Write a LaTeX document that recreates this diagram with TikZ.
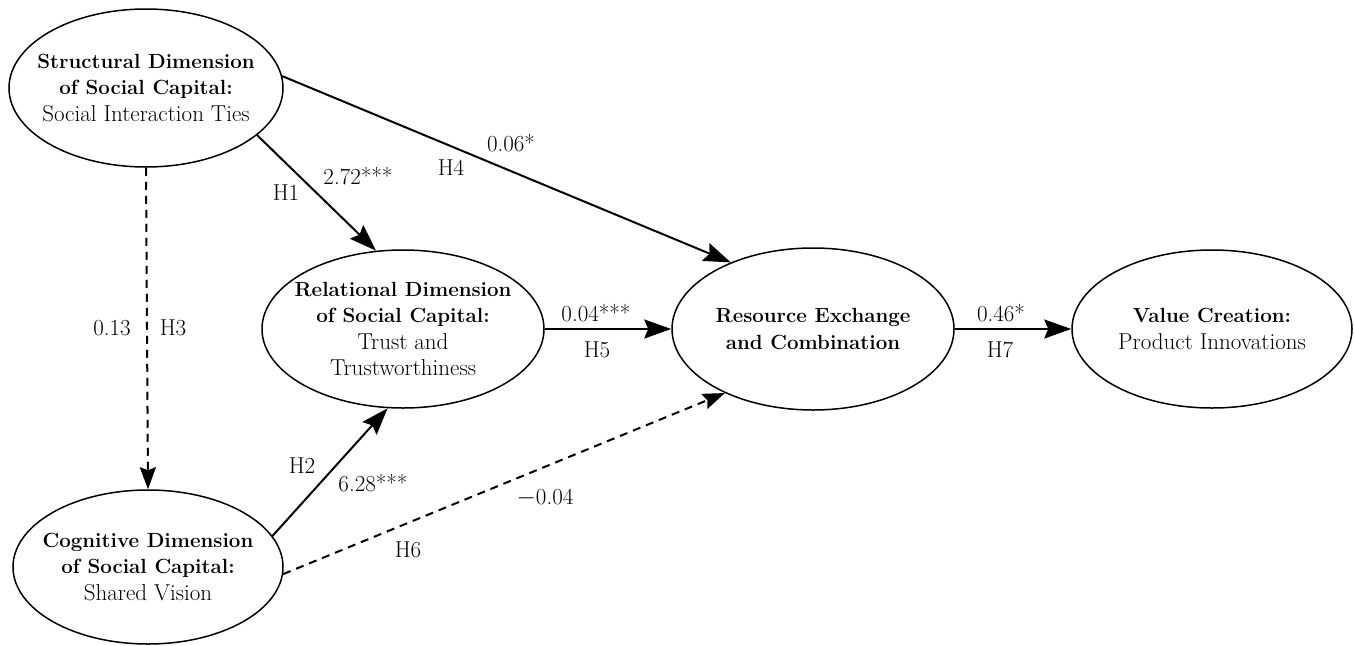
\documentclass[tikz,border=0pt]{standalone}
\usepackage{fontspec}
\usetikzlibrary{shapes.geometric,arrows.meta}
\newcommand{\rg}[1]{{\fontsize{23}{26.5}\selectfont #1}}
\begin{document}
\begin{tikzpicture}[x=1pt,y=-1pt,
  construct/.style={ellipse,draw,line width=1.5pt,inner xsep=-45pt,inner ysep=-15pt,align=center,
    minimum width=278pt,minimum height=158pt,font=\fontsize{20.5}{26.5}\selectfont},
  lbl/.style={inner sep=0pt,font=\fontsize{23}{26}\selectfont},
  path/.style={line width=2pt,-{Stealth[length=27pt,width=19pt,inset=4pt]}},
  dpath/.style={line width=2pt,dash pattern=on 8pt off 6pt,-{Stealth[length=22pt,width=16pt,inset=3pt]}}]
\useasboundingbox (0,0) rectangle (1354,645);
\node[construct,minimum width=274pt] (s) at (146,88) {\textbf{Structural Dimension}\\\textbf{of Social Capital:}\\\rg{Social Interaction Ties}};
\node[construct,minimum width=282pt] (r) at (403,329) {\textbf{Relational Dimension}\\\textbf{of Social Capital:}\\\rg{Trust and}\\\rg{Trustworthiness}};
\node[construct,minimum width=282pt,minimum height=162pt] (e) at (813,329) {\textbf{Resource Exchange}\\\textbf{and Combination}};
\node[construct,minimum width=280pt] (v) at (1212,329) {\textbf{Value Creation:}\\\rg{Product Innovations}};
\node[construct,minimum width=270pt,minimum height=154pt] (c) at (148,567) {\textbf{Cognitive Dimension}\\\textbf{of Social Capital:}\\\rg{Shared Vision}};

\draw[path] (s.-23) -- (r.109.5);
\draw[path] (s.5) -- (e.141.7);
\draw[dpath] (s.-90) -- (c.90);
\draw[path] (c.14.5) -- (r.-101.5);
\draw[dpath] (c.-3.5) -- (e.-144);
\draw[path] (r.0) -- (e.180);
\draw[path] (e.0) -- (v.180);

\node[lbl] (l1a) at (286,193) {H1};
\node[lbl] (l1b) at (358,176) {2.72***};
\node[lbl] (l4a) at (511,143) {0.06*};
\node[lbl] (l4b) at (451,168) {H4};
\node[lbl] (l3a) at (112,328) {0.13};
\node[lbl] (l3b) at (173,328) {H3};
\node[lbl] (l5a) at (596,313) {0.04***};
\node[lbl] (l5b) at (597,350) {H5};
\node[lbl] (l7a) at (1001,313) {0.46*};
\node[lbl] (l7b) at (1000,350) {H7};
\node[lbl] (l2a) at (302,466) {H2};
\node[lbl] (l2b) at (373,483) {6.28***};
\node[lbl] (l6a) at (545,498) {$-$0.04};
\node[lbl] (l6b) at (408,550) {H6};
\end{tikzpicture}
\end{document}
